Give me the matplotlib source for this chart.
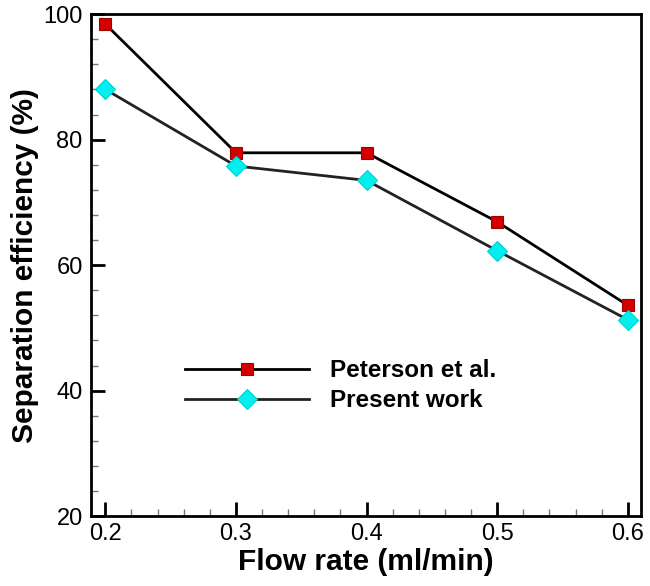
import numpy as np
import matplotlib
matplotlib.use("Agg")
import matplotlib.pyplot as plt
from matplotlib.ticker import MultipleLocator

plt.rcParams['font.family'] = ['Liberation Sans', 'DejaVu Sans']

# data
flow_rate = [0.2, 0.3, 0.4, 0.5, 0.6]
peterson = [98.4, 77.9, 77.9, 66.9, 53.6]
present = [88.0, 75.8, 73.5, 62.3, 51.3]

fig = plt.figure(figsize=(6.5, 5.86), dpi=100)
ax = fig.add_axes([0.14, 0.119, 0.846, 0.857])

ax.plot(flow_rate, peterson, color='black', lw=2, marker='s', ms=9,
        mfc='#d40000', mec='#a00000', mew=0.8, label='Peterson et al.')
ax.plot(flow_rate, present, color='#222222', lw=2, marker='D', ms=10,
        mfc='#00f0f0', mec='#00d0d0', mew=0.8, label='Present work')

ax.set_xlim(0.189, 0.61)
ax.set_ylim(20, 100)
ax.xaxis.set_major_locator(MultipleLocator(0.1))
ax.xaxis.set_minor_locator(MultipleLocator(0.02))
ax.yaxis.set_major_locator(MultipleLocator(20))
ax.yaxis.set_minor_locator(MultipleLocator(4))
ax.tick_params(which='both', direction='in', top=False, right=False, labelsize=17)
ax.tick_params(axis='x', pad=5)
ax.tick_params(axis='y', pad=6)
ax.tick_params(which='major', length=10, width=2)
ax.tick_params(which='minor', length=5, width=1, color='#777777')
for s in ax.spines.values():
    s.set_linewidth(2)

ax.set_xlabel('Flow rate (ml/min)', fontsize=21.5, fontweight='bold', labelpad=2)
ax.set_ylabel('Separation efficiency (%)', fontsize=21.5, fontweight='bold', labelpad=3)

leg = ax.legend(loc='upper left', bbox_to_anchor=(0.171, 0.313), frameon=False,
                handlelength=5.1, handletextpad=0.85, labelspacing=0.3,
                borderpad=0, borderaxespad=0, prop={'size': 17.5, 'weight': 'bold'})

plt.savefig('out.png', dpi=100)
